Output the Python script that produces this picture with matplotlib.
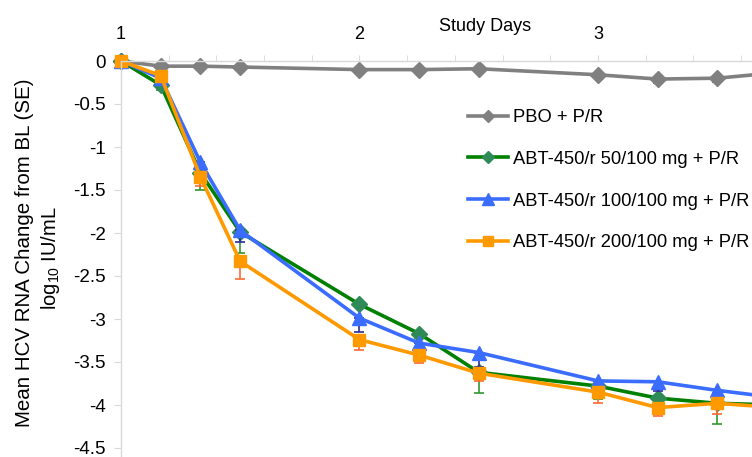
import matplotlib
matplotlib.use("Agg")
import matplotlib.pyplot as plt
from matplotlib.ticker import MultipleLocator
import numpy as np

plt.rcParams["font.family"] = ["Liberation Sans", "DejaVu Sans"]
plt.rcParams["mathtext.fontset"] = "custom"
plt.rcParams["mathtext.rm"] = "Liberation Sans"

# study day of each visit
days = [1, 1.1667, 1.3333, 1.5, 2, 2.25, 2.5, 3, 3.25, 3.5, 4]

labels = ["PBO + P/R",
          "ABT-450/r 50/100 mg + P/R",
          "ABT-450/r 100/100 mg + P/R",
          "ABT-450/r 200/100 mg + P/R"]

# mean change from baseline, log10 IU/mL
pbo = [0, -0.06, -0.06, -0.07, -0.10, -0.10, -0.09, -0.16, -0.21, -0.20, -0.07]
abt50 = [0, -0.28, -1.30, -1.99, -2.83, -3.17, -3.62, -3.78, -3.92, -3.98, -4.02]
abt100 = [0, -0.20, -1.18, -1.97, -2.99, -3.28, -3.39, -3.72, -3.73, -3.83, -4.00]
abt200 = [0, -0.17, -1.35, -2.33, -3.24, -3.42, -3.63, -3.85, -4.03, -3.98, -4.08]

# standard errors (lower bars)
pbo_se = [0, 0.03, 0.03, 0.03, 0.04, 0.04, 0.04, 0.04, 0.04, 0.04, 0.04]
abt50_se = [0, 0.06, 0.20, 0.24, 0.03, 0.05, 0.24, 0.15, 0.05, 0.24, 0.05]
abt100_se = [0, 0.03, 0.08, 0.13, 0.16, 0.05, 0.17, 0.03, 0.11, 0.03, 0.05]
abt200_se = [0, 0.03, 0.10, 0.21, 0.12, 0.09, 0.09, 0.13, 0.10, 0.13, 0.05]

fig = plt.figure(figsize=(7.52, 4.57), dpi=100)
ax = fig.add_axes([121 / 752, 0, 1 - 121 / 752, 396 / 457])

series = [
    (pbo, pbo_se, "#808080", "#808080", "#555555", "D", 8),
    (abt50, abt50_se, "#008000", "#2e8b57", "#2f9a2f", "D", 8),
    (abt100, abt100_se, "#3a6cff", "#3a6cff", "#2b2b99", "^", 10.5),
    (abt200, abt200_se, "#ff9900", "#ff9900", "#ff6a33", "s", 9),
]

for (vals, se, lc, mc, ec, mk, ms), lab in zip(series, labels):
    y = np.array(vals)
    err = [np.array(se), np.zeros(len(se))]
    ax.errorbar(days, y, yerr=err, fmt="none", ecolor=ec, elinewidth=1.2,
                capsize=3.5, capthick=1.2, clip_on=False)
    ax.plot(days, y, color=lc, lw=2.6, marker=mk, ms=ms, mfc=mc, mec=mc,
            label=lab, clip_on=False)

ax.set_xlim(1, 1 + 631 / 238.5)
ax.set_ylim(-396 / 86, 0)

ax.xaxis.tick_top()
ax.xaxis.set_label_position("top")
ax.xaxis.set_major_locator(MultipleLocator(1))
ax.xaxis.set_minor_locator(MultipleLocator(0.2))
ax.set_yticks(np.arange(0, -4.51, -0.5))
ax.set_yticklabels(["0", "-0.5", "-1", "-1.5", "-2", "-2.5", "-3", "-3.5", "-4", "-4.5"])

for s in ["right", "bottom"]:
    ax.spines[s].set_visible(False)
for s in ["left", "top"]:
    ax.spines[s].set_color("#d9d9d9")
    ax.spines[s].set_linewidth(1)

ax.tick_params(axis="x", which="both", colors="#d9d9d9", labelcolor="black",
               length=4, labelsize=13, pad=9)
ax.tick_params(axis="y", colors="#d9d9d9", labelcolor="black", length=5,
               labelsize=13.5, pad=6)

ax.set_xlabel("Study Days", fontsize=13)
ax.xaxis.set_label_coords(0.577, 1.076)

# y axis title, two lines
fig.text(25 / 752, 1 - 253 / 457, "Mean HCV RNA Change from BL (SE)",
         rotation=90, ha="center", va="center", fontsize=14.8)
fig.text(51 / 752, 1 - 258 / 457, "log$_{10}$ IU/mL",
         rotation=90, ha="center", va="center", fontsize=14.5)

ax.legend(loc="upper left", bbox_to_anchor=(468 / 752, 1 - 109 / 457),
          bbox_transform=fig.transFigure, frameon=False, fontsize=13.2,
          borderpad=0, borderaxespad=0, handlelength=2.2, handletextpad=0.25,
          labelspacing=1.35, markerscale=0.8)

fig.savefig("out.png", dpi=100)
